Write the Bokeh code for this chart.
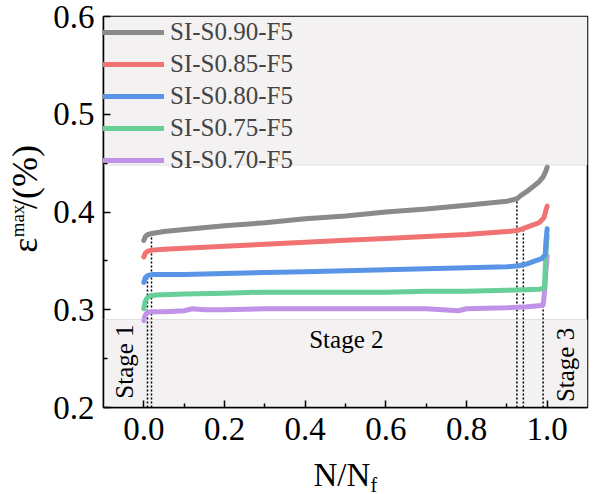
import math
from bokeh.plotting import figure
from bokeh.layouts import row, column
from bokeh.models import (Range1d, FixedTicker, PrintfTickFormatter, Legend, LegendItem,
                          BoxAnnotation, Span)
from bokeh.core.properties import value
from bokeh.embed import file_html
from bokeh.resources import INLINE

FONT = "Liberation Serif"

# ---------------- data ----------------
names = ["SI-S0.90-F5", "SI-S0.85-F5", "SI-S0.80-F5", "SI-S0.75-F5", "SI-S0.70-F5"]
colors = ["#8a8a8a", "#f07272", "#5a94e6", "#68cf98", "#c192e8"]

x_s090 = [0.0, 0.004, 0.01, 0.02, 0.05, 0.1, 0.2, 0.3, 0.4, 0.5, 0.6, 0.7, 0.8, 0.9,
          0.925, 0.935, 0.95, 0.965, 0.98, 0.99, 0.997, 1.0]
y_s090 = [0.371, 0.375, 0.377, 0.378, 0.380, 0.382, 0.386, 0.389, 0.393, 0.396, 0.400,
          0.403, 0.407, 0.411, 0.4135, 0.417, 0.421, 0.426, 0.431, 0.436, 0.442, 0.446]

x_s085 = [0.0, 0.004, 0.01, 0.02, 0.05, 0.1, 0.2, 0.3, 0.4, 0.5, 0.6, 0.7, 0.8, 0.9,
          0.925, 0.94, 0.96, 0.98, 0.992, 0.997, 1.0]
y_s085 = [0.354, 0.358, 0.360, 0.361, 0.362, 0.363, 0.365, 0.367, 0.369, 0.371, 0.373,
          0.375, 0.377, 0.380, 0.381, 0.383, 0.386, 0.389, 0.394, 0.402, 0.406]

x_s080 = [0.0, 0.004, 0.01, 0.02, 0.05, 0.1, 0.2, 0.3, 0.4, 0.5, 0.6, 0.7, 0.8, 0.9,
          0.93, 0.95, 0.97, 0.985, 0.995, 0.997, 1.0]
y_s080 = [0.328, 0.333, 0.335, 0.336, 0.336, 0.336, 0.337, 0.338, 0.339, 0.340, 0.341,
          0.342, 0.343, 0.344, 0.345, 0.347, 0.350, 0.352, 0.356, 0.370, 0.383]

x_s075 = [0.0, 0.003, 0.008, 0.015, 0.03, 0.1, 0.2, 0.3, 0.4, 0.5, 0.6, 0.7, 0.8, 0.9,
          0.98, 0.993, 0.996, 1.0]
y_s075 = [0.301, 0.308, 0.312, 0.314, 0.315, 0.316, 0.317, 0.318, 0.318, 0.318, 0.318,
          0.319, 0.319, 0.320, 0.321, 0.322, 0.350, 0.376]

x_s070 = [0.0, 0.003, 0.008, 0.02, 0.05, 0.1, 0.12, 0.15, 0.2, 0.3, 0.4, 0.5, 0.6, 0.7,
          0.78, 0.8, 0.9, 0.95, 0.98, 0.99, 0.994, 0.997, 1.0]
y_s070 = [0.289, 0.294, 0.297, 0.298, 0.298, 0.299, 0.301, 0.300, 0.300, 0.301, 0.301,
          0.301, 0.301, 0.301, 0.299, 0.301, 0.302, 0.303, 0.304, 0.305, 0.320, 0.340, 0.355]

series_x = [x_s090, x_s085, x_s080, x_s075, x_s070]
series_y = [y_s090, y_s085, y_s080, y_s075, y_s070]

x_ticks = [0.0, 0.2, 0.4, 0.6, 0.8, 1.0]
x_minor = [0.1, 0.3, 0.5, 0.7, 0.9]
y_ticks = [0.2, 0.3, 0.4, 0.5, 0.6]
y_minor = [0.25, 0.35, 0.45, 0.55]

# shaded bands (stage regions) and transition markers
band_top = [0.448, 0.6]
band_bottom = [0.2, 0.29]
trans_x = [0.009, 0.019, 0.925, 0.941, 0.99]
trans_top = [0.335, 0.378, 0.4135, 0.382, 0.322]

stage_text = ["Stage 1", "Stage 2", "Stage 3"]
stage_x = [-0.049, 0.41, 1.045]
stage_y = [0.209, 0.270, 0.2055]
stage_angle = [math.pi / 2, 0.0, math.pi / 2]

x_title = ["N/N", "f"]
y_title = ["\u03b5", "max", "/(%)"]

MAIN_H = 455

# ---------------- main figure ----------------
p = figure(width=543, height=MAIN_H, output_backend="svg", toolbar_location=None,
           x_range=Range1d(-0.1, 1.1), y_range=Range1d(0.2, 0.6),
           min_border_left=52, min_border_right=6, min_border_top=16,
           min_border_bottom=MAIN_H - 16 - 391)
p.grid.visible = False
p.outline_line_color = "black"
p.outline_line_width = 1.5
p.background_fill_color = "white"

band_color = "#f3f1f2"
p.add_layout(BoxAnnotation(bottom=band_top[0], top=band_top[1], fill_color=band_color,
                           fill_alpha=1, line_color=None, level="underlay"))
p.add_layout(BoxAnnotation(bottom=band_bottom[0], top=band_bottom[1], fill_color=band_color,
                           fill_alpha=1, line_color=None, level="underlay"))
p.add_layout(Span(location=band_top[0], dimension="width", line_color="#c8c8c8",
                  line_dash="1 1", line_width=1))
p.add_layout(Span(location=band_bottom[1], dimension="width", line_color="#c8c8c8",
                  line_dash="1 1", line_width=1))

p.segment(x0=trans_x, y0=[0.2] * len(trans_x), x1=trans_x, y1=trans_top,
          line_color="black", line_dash="2 2", line_width=1.5)

renderers = []
for xs, ys, c in zip(reversed(series_x), reversed(series_y), reversed(colors)):
    r = p.line(xs, ys, line_color=c, line_width=5, line_cap="round", line_join="round")
    renderers.append(r)
renderers = renderers[::-1]

for t, sx, sy, a in zip(stage_text, stage_x, stage_y, stage_angle):
    p.text(x=[sx], y=[sy], text=[t], angle=a, text_font=value(FONT),
           text_font_size="25px", text_color="black", text_align="left",
           text_baseline="alphabetic")

legend = Legend(items=[LegendItem(label=n, renderers=[r]) for n, r in zip(names, renderers)],
                location="top_left", border_line_color=None, background_fill_alpha=0,
                label_text_font=FONT, label_text_font_size="25px",
                glyph_width=61, glyph_height=32, label_height=32, spacing=0,
                padding=4, margin=0, label_standoff=6)
p.add_layout(legend)

for ax in (p.xaxis[0], p.yaxis[0]):
    ax.axis_line_width = 1.5
    ax.axis_line_color = "black"
    ax.major_tick_in = 7
    ax.major_tick_out = 0
    ax.minor_tick_in = 4
    ax.minor_tick_out = 0
    ax.major_tick_line_width = 1.5
    ax.minor_tick_line_width = 1.5
    ax.major_label_text_font = FONT
    ax.major_label_text_font_size = "33px"
    ax.major_label_text_color = "black"
    ax.formatter = PrintfTickFormatter(format="%.1f")

p.xaxis[0].ticker = FixedTicker(ticks=x_ticks, minor_ticks=x_minor)
p.yaxis[0].ticker = FixedTicker(ticks=y_ticks, minor_ticks=y_minor)
p.xaxis[0].major_label_standoff = 10
p.yaxis[0].major_label_standoff = 9


def blank(w, h, xr, yr):
    f = figure(width=w, height=h, output_backend="svg", toolbar_location=None,
               x_axis_location=None, y_axis_location=None,
               x_range=Range1d(*xr), y_range=Range1d(*yr),
               min_border=0, min_border_left=0, min_border_right=0,
               min_border_top=0, min_border_bottom=0)
    f.grid.visible = False
    f.outline_line_color = None
    return f


def txt(f, x, y, s, size, angle=0.0):
    f.text(x=[x], y=[y], text=[s], angle=angle, text_font=value(FONT),
           text_font_size=size, text_color="black", text_align="left",
           text_baseline="alphabetic")


# ---------------- y-axis title panel (pixel coordinates) ----------------
left = blank(50, MAIN_H, (0, 50), (MAIN_H, 0))
txt(left, 24, 275, y_title[0], "36px", math.pi / 2)
txt(left, 17, 257, y_title[1], "19px", math.pi / 2)
txt(left, 24, 224, y_title[2], "36px", math.pi / 2)

# ---------------- x-axis title panel (pixel coordinates) ----------------
bottom = blank(593, 494 - MAIN_H, (0, 593), (494, MAIN_H))
txt(bottom, 313, 474.5, x_title[0], "33px")
txt(bottom, 370, 484, x_title[1], "20px")

layout = column(row(left, p, spacing=0), bottom, spacing=0)

open("out.html", "w").write(file_html(layout, INLINE))
